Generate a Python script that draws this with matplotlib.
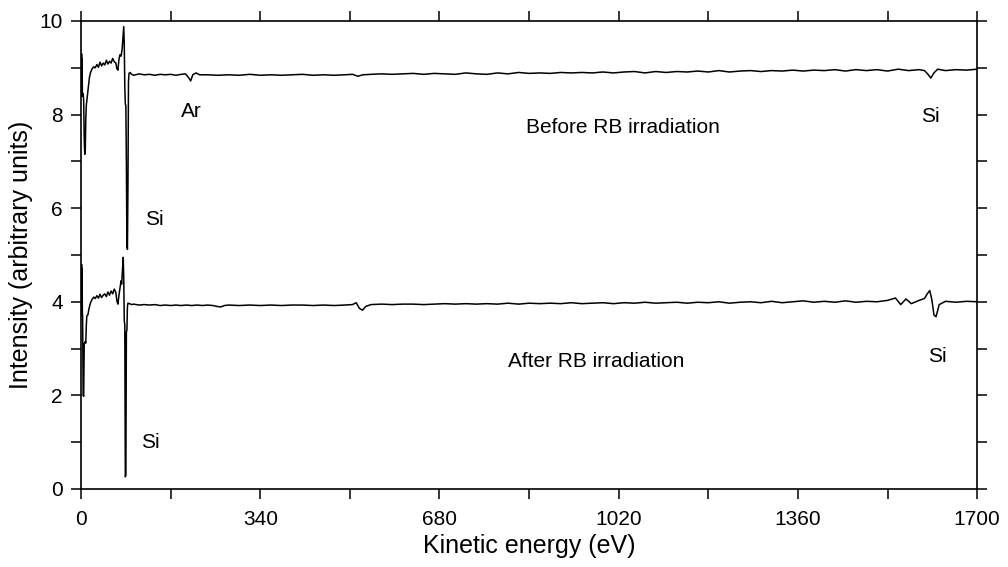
import matplotlib.pyplot as plt
from matplotlib.ticker import MultipleLocator

plt.rcParams['font.family'] = ['Liberation Sans', 'DejaVu Sans']

# Spectrum before RB irradiation
before_energy = [0, 0.5, 1, 1.5, 2, 2.5, 3, 4, 5, 6, 7, 8, 9, 10, 12, 14, 16, 18, 21, 24,
                 27, 30, 33, 36, 39, 42, 45, 48, 51, 54, 57, 60, 63, 66, 68, 70, 72, 74, 76, 78,
                 79, 80, 81, 82, 83, 84, 85, 86, 87, 88, 89, 90, 91, 93,
                 96, 100, 110, 120, 130, 140, 150, 160, 170, 180, 190, 198, 204, 208, 212, 218, 225,
                 240, 260, 280, 300, 320, 340, 360, 380, 400, 420, 440, 460, 480, 500, 515, 525, 535,
                 550, 570, 590, 610, 630, 650, 670, 690, 710, 730, 750, 770, 790, 810, 830, 850, 870,
                 890, 910, 930, 950, 970, 990, 1010, 1030, 1050, 1070, 1090, 1110, 1130, 1150, 1170,
                 1190, 1210, 1230, 1250, 1270, 1290, 1310, 1330, 1350, 1370, 1390, 1410, 1430, 1450,
                 1470, 1490, 1510, 1530, 1550, 1570, 1590, 1600, 1606, 1612, 1618, 1625, 1640, 1660,
                 1680, 1700]
before_intensity = [9.3, 8.4, 9.3, 8.4, 9.2, 8.45, 8.4, 8.45, 8.3, 7.5, 7.15, 7.2, 7.9, 8.2, 8.4, 8.6, 8.8, 8.9, 8.98, 9.02,
                    9.0, 9.07, 9.01, 9.12, 9.04, 9.1, 9.06, 9.16, 9.08, 9.14, 9.1, 9.2, 9.13, 9.1, 8.98, 8.95, 9.19, 9.28, 9.25, 9.4,
                    9.55, 9.7, 9.88, 9.5, 8.6, 8.22, 8.2, 7.0, 5.2, 5.12, 6.5, 8.7, 8.88, 8.9,
                    8.86, 8.84, 8.87, 8.85, 8.86, 8.84, 8.86, 8.85, 8.86, 8.84, 8.86, 8.87, 8.79, 8.72, 8.85, 8.89, 8.85,
                    8.85, 8.84, 8.85, 8.84, 8.86, 8.84, 8.85, 8.84, 8.85, 8.86, 8.84, 8.85, 8.84, 8.85, 8.86, 8.82, 8.85,
                    8.86, 8.87, 8.86, 8.87, 8.88, 8.86, 8.88, 8.87, 8.86, 8.89, 8.87, 8.86, 8.89, 8.87, 8.90, 8.88, 8.89,
                    8.88, 8.90, 8.89, 8.90, 8.89, 8.91, 8.89, 8.91, 8.92, 8.89, 8.92, 8.90, 8.92, 8.91, 8.93,
                    8.91, 8.94, 8.91, 8.93, 8.94, 8.92, 8.94, 8.93, 8.95, 8.93, 8.95, 8.94, 8.96, 8.93,
                    8.96, 8.94, 8.96, 8.93, 8.97, 8.94, 8.96, 8.94, 8.87, 8.78, 8.89, 8.97, 8.94, 8.96,
                    8.95, 8.97]

# Spectrum after RB irradiation
after_energy = [0, 0.5, 1, 1.5, 2, 2.5, 3, 4, 5, 6, 7, 8, 9, 10, 11, 13, 15, 18, 21, 24,
                27, 30, 33, 36, 39, 42, 45, 48, 51, 54, 57, 60, 63, 66, 68, 70, 72, 74, 76, 77,
                78, 79, 80, 81, 82, 83, 84, 85, 86, 87, 88, 89,
                92, 96, 100, 110, 120, 130, 140, 150, 160, 170, 180, 190, 200, 210, 220, 230, 240, 250,
                258, 265, 272, 280, 300, 320, 340, 360, 380, 400, 420, 440, 460, 480, 500, 515, 522, 528,
                534, 540, 550, 570, 590, 610, 630, 650, 670, 690, 710, 730, 750, 770, 790, 810, 830,
                850, 870, 890, 910, 930, 950, 970, 990, 1010, 1030, 1050, 1070, 1090, 1110, 1130, 1150,
                1170, 1190, 1210, 1230, 1250, 1270, 1290, 1310, 1330, 1350, 1370, 1390, 1410, 1430,
                1450, 1470, 1490, 1510, 1530, 1545, 1555, 1565, 1575, 1590, 1600, 1606, 1610, 1614,
                1618, 1622, 1628, 1640, 1660, 1680, 1700]
after_intensity = [4.75, 3.7, 4.8, 3.7, 4.7, 3.75, 3.7, 2.0, 1.98, 3.1, 3.12, 3.15, 3.12, 3.5, 3.7, 3.72, 3.85, 3.98, 4.05, 4.1,
                   4.07, 4.13, 4.08, 4.16, 4.09, 4.14, 4.17, 4.11, 4.21, 4.14, 4.23, 4.17, 4.27, 4.2, 4.02, 3.95, 4.15, 4.3, 4.45, 4.38,
                   4.55, 4.75, 4.95, 4.5, 3.6, 3.5, 0.26, 0.3, 3.35, 3.4, 3.9, 3.97,
                   3.96, 3.94, 3.95, 3.93, 3.94, 3.93, 3.94, 3.92, 3.93, 3.92, 3.93, 3.92, 3.93, 3.92, 3.93, 3.92, 3.93, 3.92,
                   3.90, 3.89, 3.92, 3.93, 3.92, 3.93, 3.92, 3.93, 3.92, 3.93, 3.93, 3.92, 3.93, 3.92, 3.93, 3.94, 3.98, 3.86,
                   3.82, 3.90, 3.94, 3.95, 3.94, 3.95, 3.95, 3.94, 3.95, 3.96, 3.95, 3.96, 3.95, 3.96, 3.95, 3.97, 3.95,
                   3.97, 3.96, 3.97, 3.96, 3.98, 3.96, 3.97, 3.98, 3.96, 3.98, 3.97, 3.99, 3.97, 3.98, 3.99, 3.97,
                   3.99, 3.98, 4.00, 3.97, 3.99, 4.00, 3.98, 4.01, 3.98, 4.00, 4.02, 3.99, 4.01, 3.99,
                   4.02, 3.99, 4.01, 4.00, 4.03, 4.08, 3.94, 4.06, 3.96, 4.03, 4.07, 4.18, 4.24, 4.05,
                   3.72, 3.68, 3.94, 4.01, 3.99, 4.01, 4.00]

# Peak labels: (text, energy, intensity)
labels = [
    ("Ar", 209, 8.07),
    ("Before RB irradiation", 1028, 7.73),
    ("Si", 139, 5.76),
    ("Si", 1612, 7.96),
    ("After RB irradiation", 977, 2.72),
    ("Si", 1624, 2.83),
    ("Si", 131, 1.0),
]

fig = plt.figure(figsize=(10.08, 5.67), dpi=100)
ax = fig.add_axes([0.0804, 0.1376, 0.889, 0.8254])

ax.plot(before_energy, before_intensity, color='black', lw=1.1)
ax.plot(after_energy, after_intensity, color='black', lw=1.1)

for text, xe, yi in labels:
    ax.text(xe, yi, text, ha='center', va='center', fontsize=15)

ax.set_xlim(0, 1700)
ax.set_ylim(0, 10)
ax.xaxis.set_major_locator(MultipleLocator(340))
ax.xaxis.set_minor_locator(MultipleLocator(170))
ax.yaxis.set_major_locator(MultipleLocator(2))
ax.yaxis.set_minor_locator(MultipleLocator(1))
ax.tick_params(which='both', direction='out', top=True, right=True, width=1.1,
               length=7, labelsize=15)
ax.tick_params(axis='x', pad=8)
ax.tick_params(axis='y', pad=6)
for s in ax.spines.values():
    s.set_linewidth(1.2)

ax.set_xlabel("Kinetic energy (eV)", fontsize=18, labelpad=4)
ax.set_ylabel("Intensity (arbitrary units)", fontsize=18, labelpad=5)

fig.savefig('out.png', dpi=100)
